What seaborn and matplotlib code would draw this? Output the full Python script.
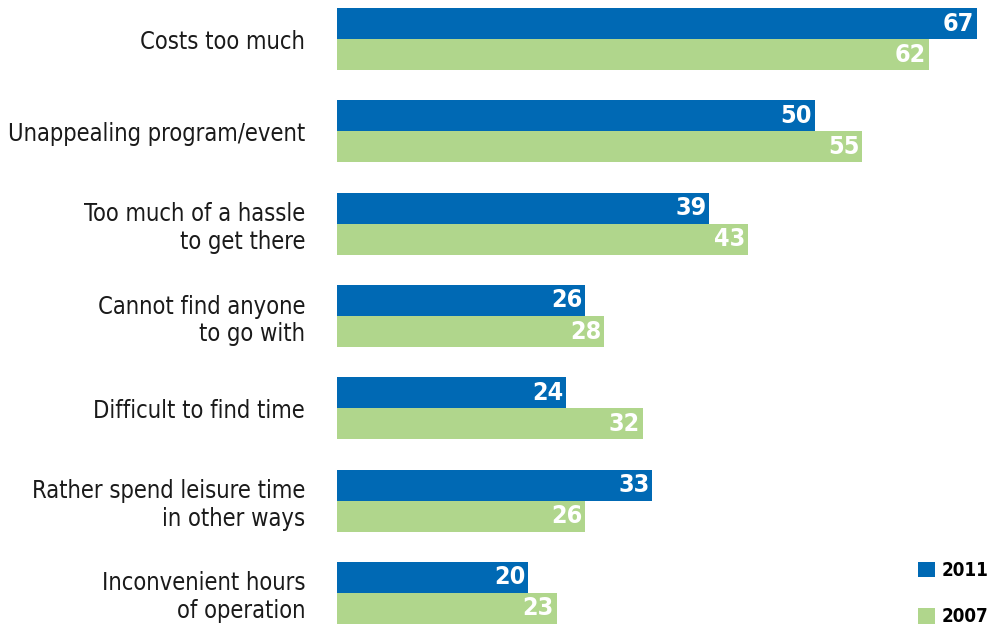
import matplotlib
matplotlib.use("Agg")
import matplotlib.pyplot as plt
from matplotlib.patches import Patch
import pandas as pd
import seaborn as sns

reasons = [
    "Costs too much",
    "Unappealing program/event",
    "Too much of a hassle\nto get there",
    "Cannot find anyone\nto go with",
    "Difficult to find time",
    "Rather spend leisure time\nin other ways",
    "Inconvenient hours\nof operation",
]
years = ["2011", "2007"]
values_2011 = [67, 50, 39, 26, 24, 33, 20]
values_2007 = [62, 55, 43, 28, 32, 26, 23]

colors = {"2011": "#0069B4", "2007": "#B0D68C"}

df = pd.DataFrame({
    "reason": reasons * 2,
    "year": [years[0]] * len(reasons) + [years[1]] * len(reasons),
    "value": values_2011 + values_2007,
})

sns.set_theme(style="white")
label_font = ["DejaVu Sans"]

W, H = 988, 625
fig = plt.figure(figsize=(W / 100, H / 100), dpi=100)
x0 = 337
ax = fig.add_axes([x0 / W, 0, 1 - x0 / W, 1])

sns.barplot(data=df, y="reason", x="value", hue="year", hue_order=years,
            order=reasons, palette=colors, width=0.672, saturation=1,
            linewidth=0, edgecolor="none",
            orient="h", ax=ax, legend=False)

px_per_unit = 9.55
ax.set_xlim(0, (W - x0) / px_per_unit)
pitch = 92.3
ax.set_ylim(6.336 + 1 / pitch, -0.336 - 8 / pitch)

for spine in ax.spines.values():
    spine.set_visible(False)
ax.set_xticks([])
ax.set_xlabel("")
ax.set_ylabel("")
ax.tick_params(axis="y", length=0, pad=23)
ax.set_yticks(range(len(reasons)))
ax.set_yticklabels(reasons, fontsize=17, color="#1a1a1a",
                   family=label_font, fontstretch="condensed",
                   linespacing=1.2)

for cont, vals in zip(ax.containers, [values_2011, values_2007]):
    texts = ax.bar_label(cont, labels=[str(v) for v in vals], padding=-2,
                         color="white", fontsize=18, fontweight="bold",
                         family=label_font, fontstretch="condensed")
    for t in texts:
        t.set_ha("right")

handles = [Patch(facecolor=colors[y], edgecolor="none", label=y) for y in years]
leg = fig.legend(handles=handles, loc="lower right",
                 bbox_to_anchor=(1.0, -0.002),
                 frameon=False,
                 prop={"family": label_font, "weight": "bold", "size": 13.5,
                       "stretch": "condensed"},
                 handlelength=0.9, handleheight=0.9, labelspacing=1.45,
                 handletextpad=0.35, borderaxespad=0.0, borderpad=0.0)
for t in leg.get_texts():
    t.set_color("black")

fig.savefig("out.png", dpi=100)
